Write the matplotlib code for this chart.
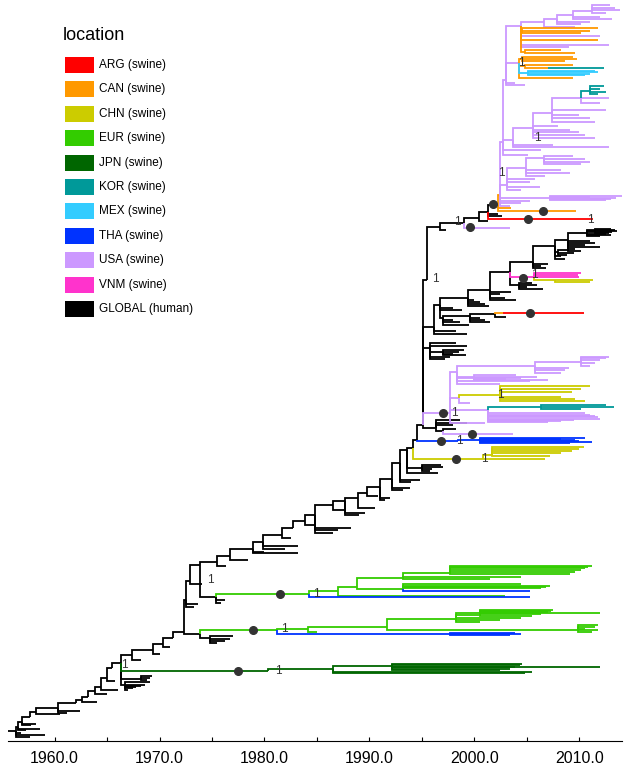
import matplotlib
matplotlib.use("Agg")
import matplotlib.pyplot as plt
from matplotlib.patches import Rectangle

plt.rcParams['font.family'] = ['Liberation Sans', 'DejaVu Sans']

# legend entries and their colours
locations = ['ARG (swine)', 'CAN (swine)', 'CHN (swine)', 'EUR (swine)', 'JPN (swine)',
             'KOR (swine)', 'MEX (swine)', 'THA (swine)', 'USA (swine)', 'VNM (swine)',
             'GLOBAL (human)']
loc_colors = ['#ff0000', '#ff9900', '#cccc00', '#33cc00', '#006600',
              '#009999', '#33ccff', '#0033ff', '#cc99ff', '#ff33cc', '#000000']

# tree nodes: (node id, parent id, date, row from top); "" = tip
global_nodes = [
    ("r0", None, 1955.6, 731), ("a1", "r0", 1956.3, 731),
    ("", "a1", 1959.1, 735), ("", "a1", 1957.7, 737), ("", "a1", 1956.8, 733),
    ("a2", "a1", 1956.5, 727), ("", "a2", 1958.6, 729), ("", "a2", 1957.3, 730),
    ("a3", "a2", 1956.9, 722), ("", "a3", 1958.2, 724), ("", "a3", 1957.8, 725),
    ("a4", "a3", 1957.7, 717), ("a5", "a4", 1958.2, 712), ("", "a5", 1960.5, 714),
    ("a6", "a5", 1960.3, 708), ("", "a6", 1961.2, 713), ("", "a6", 1962.4, 711),
    ("a7", "a6", 1962.0, 703), ("a8", "a7", 1962.6, 700), ("", "a8", 1964.0, 702),
    ("a9", "a8", 1963.2, 697), ("a10", "a9", 1963.9, 691), ("", "a10", 1965.0, 694),
    ("a11", "a10", 1964.4, 687), ("", "a11", 1966.0, 690),
    ("a12", "a11", 1965.0, 678), ("", "a12", 1965.8, 681),
    ("a13", "a12", 1965.5, 668), ("a14", "a13", 1966.3, 663),
    ("b14", "a14", 1966.7, 685), ("", "b14", 1969.1, 682), ("", "b14", 1968.6, 685),
    ("", "b14", 1967.5, 688), ("", "b14", 1967.0, 690), ("", "b14", 1968.2, 686),
    ("", "b14", 1967.8, 687),
    ("b14b", "a14", 1968.2, 679), ("", "b14b", 1969.3, 676), ("", "b14b", 1969.1, 678),
    ("", "b14b", 1968.8, 680),
    ("a15", "a14", 1967.4, 655), ("", "a15", 1968.2, 660),
    ("a16", "a15", 1969.4, 650), ("", "a16", 1970.0, 654),
    ("a17", "a16", 1970.3, 644), ("", "a17", 1971.0, 647),
    ("a18", "a17", 1971.3, 638), ("a19", "a18", 1972.3, 632),
    ("a20", "a19", 1973.9, 634),
    ("b20", "a20", 1974.8, 638), ("", "b20", 1977.0, 636), ("", "b20", 1976.7, 639),
    ("", "b20", 1976.2, 641), ("", "b20", 1975.5, 643),
    ("a21", "a19", 1972.5, 600), ("", "a21", 1973.7, 604), ("", "a21", 1973.3, 607),
    ("a22", "a21", 1972.9, 581), ("", "a22", 1974.0, 584),
    ("a23", "a22", 1973.9, 565),
    ("a24", "a23", 1975.4, 597), ("", "a24", 1976.2, 600), ("", "a24", 1975.9, 603),
    ("a25", "a23", 1975.5, 562), ("", "a25", 1976.3, 566),
    ("a26", "a25", 1976.7, 556), ("", "a26", 1978.4, 560),
    ("a27", "a26", 1978.9, 549), ("", "a27", 1980.0, 552), ("", "a27", 1983.2, 553),
    ("a28", "a27", 1979.9, 542), ("", "a28", 1983.2, 546), ("", "a28", 1982.0, 549),
    ("a29", "a28", 1981.7, 535), ("", "a29", 1982.5, 538),
    ("a30", "a29", 1982.7, 528), ("a31", "a30", 1983.9, 521), ("", "a31", 1984.8, 525),
    ("a32", "a31", 1984.8, 515), ("", "a32", 1988.2, 528), ("", "a32", 1986.5, 533),
    ("", "a32", 1987.0, 530),
    ("a33", "a32", 1986.5, 505), ("", "a33", 1987.7, 510),
    ("a34", "a33", 1987.7, 501), ("", "a34", 1989.6, 513), ("", "a34", 1989.0, 515),
    ("a35", "a34", 1988.9, 498), ("", "a35", 1990.5, 508),
    ("a36", "a35", 1989.8, 493), ("", "a36", 1990.8, 496),
    ("a37", "a36", 1991.0, 487), ("", "a37", 1992.0, 498), ("", "a37", 1991.5, 500),
    ("a38", "a37", 1992.1, 479), ("", "a38", 1993.9, 488), ("", "a38", 1993.2, 490),
    ("a39", "a38", 1992.9, 463), ("", "a39", 1994.8, 480), ("", "a39", 1994.0, 482),
    ("a40", "a39", 1993.6, 450), ("", "a40", 1996.5, 473),
    ("b40", "a40", 1995.0, 468), ("", "b40", 1996.8, 465), ("", "b40", 1996.0, 469),
    ("", "b40", 1995.8, 471), ("", "b40", 1997.0, 467),
    ("a41", "a40", 1994.1, 448), ("a42", "a41", 1994.5, 440),
    ("a43", "a42", 1995.1, 425),
    ("bk", "a43", 1996.3, 428), ("", "bk", 1998.6, 420), ("", "bk", 1999.3, 423),
    ("", "bk", 1998.0, 425),
    ("bk2", "bk", 1997.0, 431), ("", "bk2", 1998.2, 429),
    ("hc", "a43", 1995.8, 348), ("", "hc", 1998.2, 343), ("", "hc", 1999.3, 346),
    ("", "hc", 1997.7, 357), ("", "hc", 1997.2, 359),
    ("hc2", "hc", 1997.0, 352), ("", "hc2", 1999.0, 350), ("", "hc2", 1998.5, 352),
    ("", "hc2", 1998.0, 354), ("", "hc2", 1999.2, 355),
    ("h0", "a43", 1996.1, 327), ("", "h0", 1998.2, 331), ("", "h0", 1999.3, 334),
    ("h1", "h0", 1996.7, 305), ("", "h1", 1998.0, 308), ("", "h1", 1998.8, 310),
    ("hB", "h1", 1997.0, 318), ("", "hB", 1998.6, 322), ("", "hB", 1999.5, 325),
    ("", "hB", 1998.0, 320),
    ("hB1", "hB", 1999.6, 316), ("", "hB1", 2001.0, 320), ("", "hB1", 2000.5, 318),
    ("", "hB1", 2001.5, 322),
    ("hB2", "hB1", 2002.0, 314), ("", "hB2", 2003.0, 317),
    ("h2", "h1", 1999.4, 298), ("", "h2", 2000.5, 302), ("", "h2", 2001.4, 306),
    ("", "h2", 2000.0, 300), ("", "h2", 2001.0, 304),
    ("h3", "h2", 2001.5, 290), ("", "h3", 2002.4, 294), ("", "h3", 2002.9, 298),
    ("", "h3", 2003.5, 292), ("", "h3", 2004.0, 300),
    ("h4", "h3", 2003.4, 272),
    ("h4b", "h4", 2004.2, 285), ("", "h4b", 2005.5, 283), ("", "h4b", 2006.0, 285),
    ("", "h4b", 2005.0, 287), ("", "h4b", 2006.5, 289),
    ("h5", "h4", 2005.6, 262), ("", "h5", 2006.3, 266), ("", "h5", 2007.0, 264),
    ("", "h5", 2006.8, 268),
    ("h6", "h5", 2007.7, 246), ("", "h6", 2008.2, 256), ("", "h6", 2008.6, 259),
    ("h6b", "h6", 2008.0, 252), ("", "h6b", 2009.0, 250), ("", "h6b", 2009.5, 253),
    ("", "h6b", 2008.8, 255),
    ("h7", "h6", 2008.9, 240), ("", "h7", 2009.6, 249), ("", "h7", 2010.1, 251),
    ("", "h7", 2011.0, 241), ("", "h7", 2011.5, 243), ("", "h7", 2010.5, 245),
    ("", "h7", 2012.0, 247),
    ("h8", "h7", 2010.7, 233), ("", "h8", 2013.4, 230), ("", "h8", 2013.1, 232),
    ("", "h8", 2012.5, 234), ("", "h8", 2012.0, 236), ("", "h8", 2013.0, 235),
    ("h8b", "h8", 2011.5, 231), ("", "h8b", 2013.0, 229), ("", "h8b", 2013.6, 231),
    ("", "h8b", 2012.8, 233),
    ("a44", "a43", 1995.5, 280), ("a45", "a44", 1996.7, 227), ("", "a45", 1997.3, 230),
    ("a46", "a45", 1999.0, 223), ("a47", "a46", 2000.4, 218), ("", "a47", 2001.3, 221),
    ("a48", "a47", 2001.3, 212), ("", "a48", 2002.2, 214), ("", "a48", 2002.6, 216),
    ("a49", "a48", 2001.7, 205),
]

eur_nodes = [
    ("e0", "a20", 1981.2, 630), ("e2", "e0", 1984.1, 629), ("", "e2", 1985.0, 632),
    ("e3", "e2", 1991.7, 627), ("e4", "e3", 1998.2, 619), ("e4a", "e4", 2000.5, 615),
    ("", "e4", 2012.0, 613), ("", "e4a", 2007.5, 610), ("", "e4a", 2007.0, 612),
    ("", "e4a", 2006.3, 614), ("", "e4a", 2005.5, 616), ("", "e4a", 2007.3, 611),
    ("", "e4", 2004.4, 618), ("", "e4", 2002.4, 620), ("", "e4", 2000.5, 622),
    ("e5", "e3", 2009.9, 630), ("", "e5", 2011.8, 625), ("", "e5", 2011.5, 627),
    ("", "e5", 2011.8, 630), ("", "e5", 2011.2, 632), ("", "e5", 2010.5, 629),
    ("e10", "a24", 1984.2, 594), ("e11", "e10", 1987.0, 591), ("", "e11", 2002.9, 596),
    ("e12", "e11", 1988.8, 587), ("e13", "e12", 1993.2, 578), ("e13a", "e13", 1997.7, 573),
    ("", "e13a", 2011.2, 566), ("", "e13a", 2010.5, 568), ("", "e13a", 2010.1, 570),
    ("", "e13a", 2009.6, 572), ("", "e13a", 2009.1, 574), ("", "e13a", 2010.8, 567),
    ("", "e13", 2004.4, 577), ("", "e13", 2001.5, 579),
    ("e16", "e12", 1993.2, 589), ("", "e16", 2007.2, 586), ("", "e16", 2006.3, 588),
    ("", "e16", 2004.4, 584), ("", "e16", 2006.8, 587),
]

tha_nodes = [
    ("t2", "e0", 1997.7, 634), ("", "t2", 2004.4, 634), ("", "t2", 2003.9, 633),
    ("", "t2", 2003.4, 635), ("", "t2", 2002.4, 634),
    ("", "e16", 2005.3, 591), ("", "e10", 2005.3, 597),
    ("t0", "a42", 1998.4, 441), ("t1", "t0", 2000.5, 440),
    ("", "t1", 2011.2, 442), ("", "t1", 2010.5, 438), ("", "t1", 2009.6, 440),
    ("", "t1", 2009.1, 443), ("", "t1", 2008.2, 439), ("", "t1", 2007.0, 441),
    ("", "t1", 2010.0, 441),
]

jpn_nodes = [
    ("j1", "a14", 1980.3, 671), ("j2", "j1", 1986.5, 669), ("j3", "j2", 1992.1, 666),
    ("", "j3", 2004.5, 664), ("", "j3", 2004.3, 665), ("", "j3", 2003.9, 667),
    ("", "j3", 2012.0, 667), ("", "j3", 2003.4, 669), ("", "j3", 2002.4, 670),
    ("", "j2", 2005.5, 672), ("", "j2", 2004.8, 673),
]

chn_nodes = [
    ("c0", "a41", 2000.8, 459), ("c1", "c0", 2001.7, 455),
    ("", "c1", 2010.4, 447), ("", "c1", 2010.0, 449), ("", "c1", 2009.3, 451),
    ("", "c1", 2008.2, 453), ("", "c1", 2007.2, 456), ("", "c0", 2006.7, 459),
    ("y0", "p4", 2002.4, 395), ("", "y0", 2011.0, 386), ("", "y0", 2010.1, 389),
    ("", "y0", 2009.3, 392), ("", "y0", 2008.2, 397), ("", "y0", 2010.5, 401),
    ("", "y0", 2009.6, 399),
    ("y1", "vm0", 2007.7, 280), ("", "y1", 2011.3, 280), ("", "y1", 2011.0, 282),
]

can_nodes = [
    ("oA", "hB2", 2002.7, 313),
    ("o0", "a49", 2002.2, 205), ("", "o0", 2009.7, 211), ("", "o0", 2003.5, 208),
    ("o1", "o0", 2002.3, 195),
    ("o5", "ut1", 2004.5, 30), ("", "o5", 2011.8, 28), ("", "o5", 2011.0, 31),
    ("", "o5", 2010.1, 33),
    ("o6", "ut1", 2004.8, 40), ("", "o6", 2011.8, 40),
    ("o7", "ut1", 2004.8, 52), ("", "o7", 2008.2, 50), ("", "o7", 2009.6, 53),
    ("o8", "uo", 2004.5, 59), ("", "o8", 2009.4, 57), ("", "o8", 2009.8, 59),
    ("", "o8", 2008.6, 61),
    ("o9", "uo", 2004.8, 66), ("o10", "o9", 2007.0, 68), ("", "o9", 2009.4, 65),
    ("o11", "uo", 2004.5, 78), ("", "o11", 2009.4, 78),
]

arg_nodes = [
    ("", "oA", 2010.4, 313),
    ("", "a48", 2011.3, 219),
]

vnm_nodes = [
    ("vm0", "h4", 2005.7, 277), ("", "vm0", 2010.1, 273), ("", "vm0", 2009.9, 275),
    ("", "vm0", 2010.0, 277),
]

usa_nodes = [
    ("", "a46", 2003.4, 228),
    ("u0", "o1", 2002.4, 195),
    ("ul", "u0", 2007.2, 198), ("", "ul", 2014.2, 196), ("", "ul", 2013.5, 198),
    ("", "ul", 2012.5, 200), ("", "ul", 2011.0, 197), ("", "ul", 2013.0, 199),
    ("", "u0", 2004.4, 203), ("", "u0", 2005.3, 201), ("", "u0", 2003.4, 206),
    ("ulo0", "u0", 2003.1, 185), ("", "ulo0", 2005.3, 182), ("", "ulo0", 2006.2, 187),
    ("", "ulo0", 2004.4, 190), ("", "ulo0", 2005.8, 179),
    ("ulo1", "ulo0", 2004.9, 168), ("", "ulo1", 2008.2, 170), ("", "ulo1", 2009.1, 173),
    ("", "ulo1", 2006.7, 176),
    ("ulo2", "ulo1", 2006.6, 158), ("", "ulo2", 2009.4, 156), ("", "ulo2", 2010.5, 159),
    ("", "ulo2", 2011.0, 162), ("", "ulo2", 2010.1, 164),
    ("u1", "u0", 2002.7, 142), ("", "u1", 2006.3, 150), ("", "u1", 2005.1, 155),
    ("um1", "u1", 2003.7, 140), ("", "um1", 2007.5, 145), ("", "um1", 2012.8, 147),
    ("um2", "um1", 2005.6, 128), ("", "um2", 2009.1, 130), ("", "um2", 2010.5, 135),
    ("", "um2", 2011.5, 138), ("", "um2", 2010.0, 132), ("", "um2", 2008.0, 126),
    ("um3", "um2", 2007.4, 113), ("", "um3", 2012.5, 110), ("", "um3", 2011.0, 118),
    ("", "um3", 2011.5, 122), ("", "um3", 2010.0, 115),
    ("um4", "um3", 2010.1, 98), ("", "um4", 2012.8, 98), ("", "um4", 2012.0, 103),
    ("ut0", "u1", 2003.0, 80), ("", "ut0", 2003.9, 83), ("", "ut0", 2004.8, 85),
    ("uo", "ut0", 2004.2, 63),
    ("ut1", "ut0", 2004.4, 26), ("", "ut1", 2012.8, 45), ("", "ut1", 2012.0, 36),
    ("", "ut1", 2009.0, 47),
    ("ut2", "ut1", 2006.6, 22), ("", "ut2", 2009.6, 27),
    ("ut3", "ut2", 2007.9, 19), ("", "ut3", 2011.0, 22), ("", "ut3", 2010.1, 24),
    ("ut4", "ut3", 2009.4, 15), ("", "ut4", 2012.0, 17), ("", "ut4", 2013.1, 19),
    ("ut5", "ut4", 2011.2, 11), ("", "ut5", 2012.9, 5), ("", "ut5", 2013.4, 8),
    ("", "ut5", 2013.9, 10), ("", "ut5", 2012.5, 13),
    ("p0", "a43", 1997.7, 413), ("", "p0", 2001.0, 423),
    ("p1", "p0", 1998.3, 372), ("", "p1", 2004.4, 378), ("", "p1", 2005.3, 381),
    ("", "p1", 2002.4, 384),
    ("p1b", "p1", 2000.0, 377), ("", "p1b", 2004.0, 375), ("", "p1b", 2006.0, 377),
    ("", "p1b", 2003.0, 379), ("", "p1b", 2007.0, 380),
    ("p2", "p1", 2005.8, 366), ("", "p2", 2008.6, 370), ("", "p2", 2008.2, 373),
    ("", "p2", 2009.0, 368),
    ("p3", "p2", 2010.1, 362), ("", "p3", 2012.5, 358), ("", "p3", 2012.0, 360),
    ("", "p3", 2011.5, 363), ("", "p3", 2011.0, 366), ("", "p3", 2012.8, 357),
    ("p4", "p0", 1998.5, 398), ("", "p4", 1999.6, 403),
    ("p5", "p0", 2001.3, 410), ("", "p5", 2011.5, 416), ("", "p5", 2012.0, 419),
    ("", "p5", 2010.5, 413), ("", "p5", 2008.2, 421), ("", "p5", 2011.0, 415),
    ("", "p5", 2011.8, 417), ("", "p5", 2009.5, 420), ("", "p5", 2007.0, 422),
    ("", "bk2", 2003.7, 434),
]

kor_nodes = [
    ("k1", "um4", 2011.0, 91), ("", "k1", 2012.3, 86), ("", "k1", 2012.0, 89),
    ("", "k1", 2012.5, 92), ("", "k1", 2011.8, 94),
    ("", "o10", 2012.3, 68),
    ("k2", "p5", 2006.3, 407), ("", "k2", 2013.3, 407), ("", "k2", 2012.5, 405),
    ("", "k2", 2010.1, 409),
]

mex_nodes = [
    ("m0", "uo", 2005.1, 73), ("", "m0", 2011.8, 72), ("", "m0", 2011.0, 74),
    ("", "m0", 2010.5, 75), ("", "m0", 2011.5, 71),
]

# drawing order: human backbone first, swine lineages on top
clades = [
    (global_nodes, 'GLOBAL (human)'), (jpn_nodes, 'JPN (swine)'),
    (eur_nodes, 'EUR (swine)'), (usa_nodes, 'USA (swine)'),
    (can_nodes, 'CAN (swine)'), (chn_nodes, 'CHN (swine)'),
    (tha_nodes, 'THA (swine)'), (kor_nodes, 'KOR (swine)'),
    (mex_nodes, 'MEX (swine)'), (arg_nodes, 'ARG (swine)'),
    (vnm_nodes, 'VNM (swine)'),
]

# posterior markers on branches (date, row)
dot_dates = [1977.5, 1978.9, 1981.5, 1998.2, 1996.8, 1999.8, 1997.0, 2004.6,
             2005.3, 1999.6, 2001.8, 2005.1, 2006.5]
dot_rows = [671, 630, 594, 459, 441, 434, 413, 278, 313, 227, 204, 219, 211]

# node support labels "1" (date, row)
support_dates = [1966.7, 1974.8, 1981.9, 1981.3, 1984.9, 1996.3, 1998.4, 2011.0,
                 2002.6, 2004.5, 2006.0, 2005.7, 1998.1, 2002.5, 1998.6, 2000.9]
support_rows = [665, 580, 629, 671, 594, 279, 222, 220,
                173, 63, 138, 275, 413, 395, 441, 459]

# collect node positions
pos = {}
for nodes, loc in clades:
    for nid, parent, date, row in nodes:
        if nid:
            pos[nid] = (date, row)

fig = plt.figure(figsize=(6.31, 7.68), dpi=100)
ax = fig.add_axes([8 / 631, 27 / 768, 614 / 631, 741 / 768])

for nodes, loc in clades:
    col = loc_colors[locations.index(loc)]
    for nid, parent, date, row in nodes:
        if parent is None:
            continue
        px, py = pos[parent]
        ax.plot([px, px, date], [py, row, row], color=col, lw=1.3,
                solid_joinstyle='miter', solid_capstyle='butt')

ax.plot(dot_dates, dot_rows, 'o', color='#333333', ms=5.5, zorder=5)
for d, r in zip(support_dates, support_rows):
    ax.text(d, r, '1', fontsize=8.5, color='#333333', ha='center', va='center', zorder=6)

ax.set_xlim(1955.57, 2014.05)
ax.set_ylim(741, 0)
for s in ['top', 'right', 'left']:
    ax.spines[s].set_visible(False)
ax.spines['bottom'].set_linewidth(0.8)
ax.set_yticks([])
major = [1960, 1970, 1980, 1990, 2000, 2010]
ax.set_xticks(major)
ax.set_xticklabels([f"{v:.1f}" for v in major], fontsize=11.5)
ax.set_xticks([1965, 1975, 1985, 1995, 2005], minor=True)
ax.tick_params(axis='x', which='both', direction='in', length=3, width=0.8, pad=7)

# legend
fig.text(63 / 631, 1 - 35 / 768, 'location', fontsize=13, va='center', ha='left')
for i, (lab, col) in enumerate(zip(locations, loc_colors)):
    cy = 65 + i * 24.4
    fig.add_artist(Rectangle((65 / 631, 1 - (cy + 8) / 768), 29 / 631, 16 / 768,
                             transform=fig.transFigure, facecolor=col, edgecolor='none'))
    fig.text(99 / 631, 1 - cy / 768, lab, fontsize=8.5, va='center', ha='left')

fig.savefig('out.png', dpi=100)
